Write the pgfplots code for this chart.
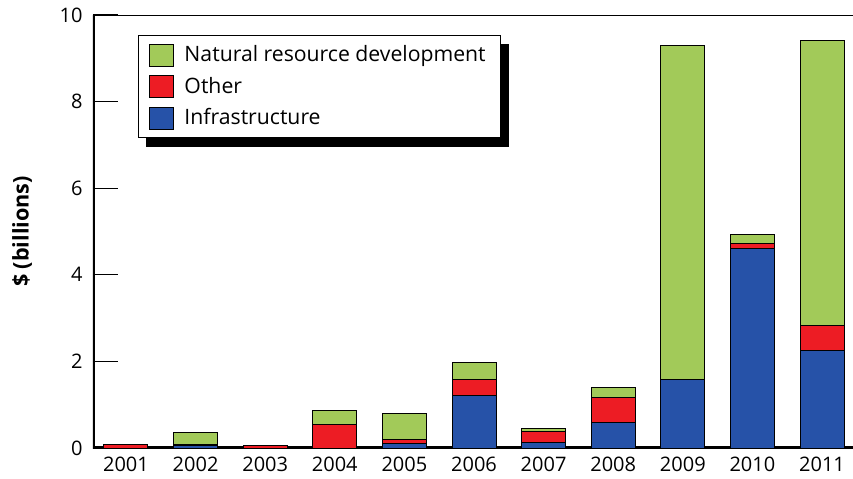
\documentclass[border=0pt]{standalone}
\usepackage{fontspec}
\setmainfont{Open Sans}
\usepackage{pgfplots}
\pgfplotsset{compat=1.18}
\usetikzlibrary{backgrounds}
\definecolor{cgreen}{HTML}{A2CA59}
\definecolor{cred}{HTML}{ED1C24}
\definecolor{cblue}{HTML}{2652A8}
\begin{document}
\fontsize{10}{12}\selectfont
\begin{tikzpicture}
\begin{axis}[
  name=ax,
  scale only axis,
  width=380pt, height=216.5pt,
  ybar stacked,
  bar width=22pt,
  xmin=-0.474, xmax=10.445,
  ymin=0, ymax=10,
  xtick=data,
  xticklabels={2001,2002,2003,2004,2005,2006,2007,2008,2009,2010,2011},
  ytick={0,2,4,6,8,10},
  ytick pos=left,
  major x tick style={draw=none},
  major y tick style={black, line width=0.6pt},
  tick align=inside,
  major tick length=12.5pt,
  axis line style={draw=none},
  /pgf/number format/assume math mode=true,
  ticklabel style={font=\fontsize{10}{12}\selectfont, inner sep=0pt},
  yticklabel style={xshift=-5pt},
  xticklabel style={yshift=-4.5pt},
  ylabel={\bfseries \$ (billions)},
  ylabel style={at={(axis description cs:-0.0934,0.5)}, anchor=center, font=\fontsize{10.8}{12}\selectfont},
  every axis plot/.append style={draw=black, line width=0.5pt},
  legend cell align=left,
  reverse legend,
  legend style={name=leg, at={(0,1)}, anchor=north west, xshift=22.5pt, yshift=-10pt,
    draw=black, line width=0.5pt, fill=white,
    inner xsep=5.5pt, inner ysep=3pt, row sep=2.25pt,
    font=\fontsize{10.6}{12}\selectfont},
  legend image code/.code={\draw[#1, line width=0.5pt] (0pt,-5.5pt) rectangle (12pt,5.5pt); \path (15pt,0pt);},
]
\addplot[fill=cblue] coordinates {(0,0) (1,0.05) (2,0) (3,0) (4,0.11) (5,1.22) (6,0.13) (7,0.60) (8,1.59) (9,4.60) (10,2.26)};
\addlegendentry{Infrastructure}
\addplot[fill=cred] coordinates {(0,0.07) (1,0.02) (2,0.06) (3,0.54) (4,0.075) (5,0.37) (6,0.245) (7,0.555) (8,0) (9,0.13) (10,0.56)};
\addlegendentry{Other}
\addplot[fill=cgreen] coordinates {(0,0) (1,0.29) (2,0) (3,0.315) (4,0.615) (5,0.38) (6,0.07) (7,0.245) (8,7.71) (9,0.19) (10,6.60)};
\addlegendentry{Natural resource development}
\draw[line width=2pt] (rel axis cs:0,1) -- (rel axis cs:0,0) -- (rel axis cs:1,0);
\draw[line width=0.7pt] (rel axis cs:0,1) -- (rel axis cs:1,1);
\end{axis}
\begin{pgfonlayer}{background}
\fill[black] ([xshift=4pt,yshift=-4.5pt]leg.south west) rectangle ([xshift=4pt,yshift=-4.5pt]leg.north east);
\end{pgfonlayer}
\pgfresetboundingbox
\path ([xshift=-46.5pt,yshift=-15pt]ax.south west) rectangle ([yshift=7.5pt]ax.north east);
\end{tikzpicture}
\end{document}
